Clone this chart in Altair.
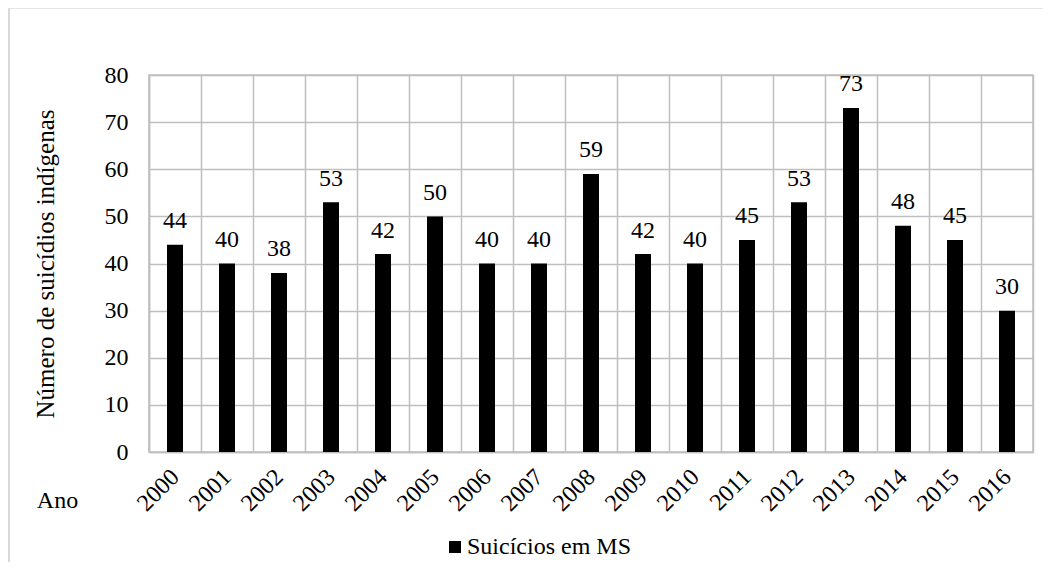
import altair as alt
import pandas as pd

years = [str(y) for y in range(2000, 2017)]
values = [44, 40, 38, 53, 42, 50, 40, 40, 59, 42, 40, 45, 53, 73, 48, 45, 30]
series = ["Suicícios em MS"] * len(years)

df = pd.DataFrame({"Ano": years, "Valor": values, "Serie": series})

FONT = "Liberation Serif"
FS = 24
GRID = "#bfbfbf"

base = alt.Chart(df)

x_enc = alt.X(
    "Ano:N",
    sort=years,
    scale=alt.Scale(paddingInner=0, paddingOuter=0),
    axis=alt.Axis(
        title="Ano",
        titleX=-92,
        titleY=48,
        titleAlign="center",
        titleBaseline="middle",
        titleFont=FONT,
        titleFontSize=FS,
        titleFontWeight="normal",
        titleColor="black",
        labelAngle=-45,
        labelAlign="right",
        labelBaseline="middle",
        labelPadding=21,
        labelFont=FONT,
        labelFontSize=FS,
        labelColor="black",
        tickBand="extent",
        ticks=False,
        grid=True,
        gridColor=GRID,
        gridWidth=1.5,
        domainColor=GRID,
        domainWidth=1.5,
    ),
)

y_enc = alt.Y(
    "Valor:Q",
    scale=alt.Scale(domain=[0, 80], nice=False),
    axis=alt.Axis(
        title="Número de suicídios indígenas",
        titleFont=FONT,
        titleFontSize=25,
        titleFontWeight="normal",
        titleColor="black",
        titleX=-104,
        titleBaseline="middle",
        values=list(range(0, 90, 10)),
        labelFont=FONT,
        labelFontSize=FS,
        labelColor="black",
        labelPadding=21,
        labelBaseline="middle",
        ticks=False,
        grid=True,
        gridColor=GRID,
        gridWidth=1.5,
        domainColor=GRID,
        domainWidth=1.5,
    ),
)

bars = base.mark_bar(size=16).encode(
    x=x_enc,
    y=y_enc,
    color=alt.Color(
        "Serie:N",
        scale=alt.Scale(domain=["Suicícios em MS"], range=["black"]),
        legend=alt.Legend(
            title=None,
            orient="none",
            legendX=294,
            legendY=460,
            padding=0,
            symbolType="square",
            symbolSize=144,
            symbolStrokeWidth=0,
            labelFont=FONT,
            labelFontSize=FS,
            labelColor="black",
            labelOffset=0,
            labelLimit=0,
        ),
    ),
)

labels = base.mark_text(
    font=FONT, fontSize=FS, color="black", baseline="alphabetic", dy=-16.5
).encode(
    x=alt.X("Ano:N", sort=years),
    y=alt.Y("Valor:Q"),
    text="Valor:Q",
)

border_left = base.mark_rule(stroke="#d9d9d9", strokeWidth=2).encode(
    x=alt.value(-140),
    y=alt.value(-67),
    y2=alt.value(700),
)
border_top = base.mark_rule(stroke="#e3e3e3", strokeWidth=1).encode(
    x=alt.value(-140),
    x2=alt.value(1200),
    y=alt.value(-67),
)

chart = (
    alt.layer(border_left, border_top, bars, labels)
    .properties(
        width=884,
        height=377,
        padding={"left": 141, "top": 67, "right": 10, "bottom": 110},
        autosize=alt.AutoSizeParams(type="none"),
    )
    .configure_view(stroke=GRID, strokeWidth=1.5)
)

chart.save("out.html", embed_options={"renderer": "svg", "actions": False})
